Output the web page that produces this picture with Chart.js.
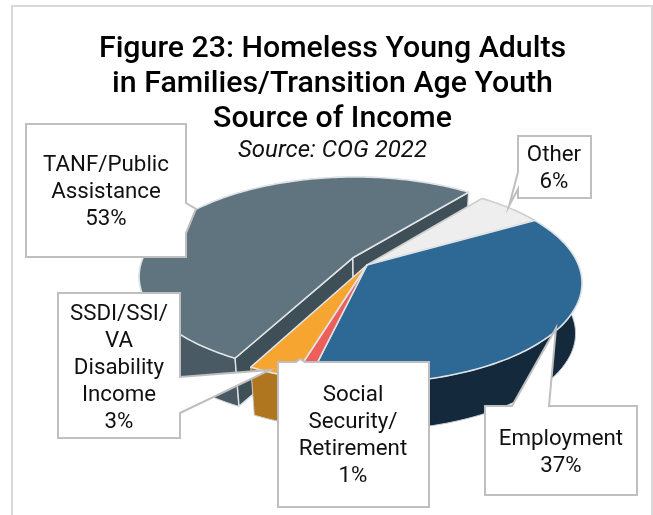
<!DOCTYPE html>
<html lang="en">
<head>
  <meta charset="UTF-8" />
  <title>Figure 23: Source of Income</title>
  <script src="https://cdn.jsdelivr.net/npm/chart.js"></script>
  <style>
    html, body { margin: 0; padding: 0; background: #fff; }
    #wrap { position: relative; width: 653px; height: 515px; overflow: hidden; }
  </style>
</head>
<body>
  <div id="wrap"><canvas id="incomeChart" width="653" height="515"></canvas></div>

  <script>
    const categories = ['TANF/Public Assistance', 'Other', 'Employment', 'Social Security/Retirement', 'SSDI/SSI/VA Disability Income'];
    const shares = [53, 6, 37, 1, 3];
    const labelLines = [
      ['TANF/Public', 'Assistance'],
      ['Other'],
      ['Employment'],
      ['Social', 'Security/', 'Retirement'],
      ['SSDI/SSI/', 'VA', 'Disability', 'Income']
    ];
    const titleLines = ['Figure 23: Homeless Young Adults', 'in Families/Transition Age Youth', 'Source of Income'];
    const subtitleLine = 'Source: COG 2022';

    const topColors = ['#60747f', '#eeeeee', '#2e6894', '#ee5f5b', '#f7a531'];
    const sideColors = ['#4a5a64', '#a9a9a9', '#14293b', '#a83c3a', '#b0761f'];
    const cutColor = '#3f4f58';

    // pie projection: flat disc seen at an angle, with a little perspective
    const APEX = { x: 367, y: 265 };
    const RADIUS = 211.5;
    const FLAT = 0.4577;
    const PERSPECTIVE = 0.18;
    const DEPTH = 51;
    const LOWER_SCALE = 0.97;
    const LIFT = -3;

    // callout outlines, each one a box with its pointer, and the text centre
    const callouts = [
      { outline: [[26,124],[186,124],[186,203],[196,209],[186,233],[186,257],[26,257]], cx: 106, top: 165 },
      { outline: [[518,136],[591,136],[591,198],[518,198],[518,189],[509,206],[518,172]], cx: 554, top: 155 },
      { outline: [[485,406],[512,406],[556,328],[549,406],[637,406],[637,495],[485,495]], cx: 561, top: 439 },
      { outline: [[278,362],[296,362],[300,359],[305,362],[429,362],[429,507],[278,507]], cx: 353, top: 395 },
      { outline: [[58,293],[180,293],[180,377],[270,370],[180,413],[180,438],[58,438]], cx: 119, top: 314 }
    ];
    const LABEL_FONT = '22.3px Roboto';
    const LABEL_LINE = 27.2;

    function project(angle, frac, off, lower) {
      const u = frac * Math.cos(angle) + off.u;
      const v = frac * Math.sin(angle) + off.v;
      const w = 1 - PERSPECTIVE * v;
      let x = RADIUS * u / w;
      let y = RADIUS * FLAT * v / w;
      if (lower) {
        x *= LOWER_SCALE;
        y = y * LOWER_SCALE + DEPTH;
      }
      return { x: APEX.x + x, y: APEX.y + y + off.lift };
    }

    function arcPoints(start, end, off, lower) {
      const pts = [];
      const steps = Math.max(2, Math.ceil((end - start) / 0.02));
      for (let i = 0; i <= steps; i++) {
        pts.push(project(start + (end - start) * i / steps, 1, off, lower));
      }
      return pts;
    }

    function fillPoly(ctx, pts, fill, stroke, width) {
      ctx.beginPath();
      pts.forEach((p, i) => i ? ctx.lineTo(p.x, p.y) : ctx.moveTo(p.x, p.y));
      ctx.closePath();
      ctx.fillStyle = fill;
      ctx.fill();
      ctx.strokeStyle = stroke;
      ctx.lineWidth = width;
      ctx.lineJoin = 'round';
      ctx.stroke();
    }

    function sliceGeometry(el) {
      const { startAngle, endAngle } = el.getProps(['startAngle', 'endAngle'], true);
      const mid = (startAngle + endAngle) / 2;
      const d = (el.options.offset || 0) / RADIUS;
      const off = { u: d * Math.cos(mid), v: d * Math.sin(mid), lift: d ? LIFT : 0 };
      return { startAngle, endAngle, off };
    }

    function drawWalls(ctx, g, i) {
      const top = arcPoints(g.startAngle, g.endAngle, g.off, false);
      const low = arcPoints(g.startAngle, g.endAngle, g.off, true);
      fillPoly(ctx, top.concat(low.reverse()), sideColors[i], '#c9ced1', 1);
    }

    function drawCuts(ctx, g) {
      [g.startAngle, g.endAngle].forEach(a => {
        fillPoly(ctx, [
          project(a, 0, g.off, false), project(a, 1, g.off, false),
          project(a, 1, g.off, true), project(a, 0, g.off, true)
        ], cutColor, '#dfe3e6', 1.5);
      });
    }

    function drawTop(ctx, g, i) {
      const pts = [project(0, 0, g.off, false)].concat(arcPoints(g.startAngle, g.endAngle, g.off, false));
      fillPoly(ctx, pts, topColors[i], i === 1 ? '#cfcfcf' : '#dfe3e6', 1.6);
    }

    // extruded pie, built from the arc angles the controller worked out
    const pie3d = {
      id: 'pie3d',
      beforeDatasetDraw(chart, args) {
        const ctx = chart.ctx;
        const geo = args.meta.data.map(sliceGeometry);
        ctx.save();
        drawWalls(ctx, geo[0], 0);
        drawCuts(ctx, geo[0]);
        drawTop(ctx, geo[0], 0);
        [1, 2, 3, 4].forEach(i => drawWalls(ctx, geo[i], i));
        [1, 2, 3, 4].forEach(i => drawTop(ctx, geo[i], i));
        ctx.restore();
        return false;
      }
    };

    const calloutLabels = {
      id: 'calloutLabels',
      afterDraw(chart) {
        const ctx = chart.ctx;
        ctx.save();
        callouts.forEach((c, i) => {
          ctx.beginPath();
          c.outline.forEach((p, j) => j ? ctx.lineTo(p[0], p[1]) : ctx.moveTo(p[0], p[1]));
          ctx.closePath();
          ctx.fillStyle = '#fff';
          ctx.fill();
          ctx.strokeStyle = '#bfbfbf';
          ctx.lineWidth = 2;
          ctx.lineJoin = 'miter';
          ctx.stroke();

          ctx.fillStyle = '#111';
          ctx.font = LABEL_FONT;
          ctx.textAlign = 'center';
          ctx.textBaseline = 'middle';
          labelLines[i].concat(shares[i] + '%').forEach((line, k) => {
            ctx.fillText(line, c.cx, c.top + k * LABEL_LINE);
          });
        });
        ctx.restore();
      }
    };

    const frame = {
      id: 'frame',
      beforeDraw(chart) {
        const ctx = chart.ctx;
        ctx.save();
        ctx.strokeStyle = '#d9d9d9';
        ctx.lineWidth = 2;
        ctx.strokeRect(12, 6, 640, 530);
        ctx.restore();
      }
    };

    new Chart(document.getElementById('incomeChart'), {
      type: 'pie',
      data: {
        labels: categories,
        datasets: [{
          data: shares,
          backgroundColor: topColors,
          borderWidth: 0,
          offset: [17, 0, 0, 0, 0]
        }]
      },
      options: {
        responsive: false,
        animation: false,
        rotation: 207.5,
        radius: RADIUS,
        layout: { padding: { left: 12 } },
        plugins: {
          legend: { display: false },
          tooltip: { enabled: false },
          title: {
            display: true,
            text: titleLines,
            color: '#000',
            font: { family: 'Roboto', size: 30.3, weight: '500', lineHeight: 1.155 },
            padding: { top: 31.5, bottom: 0 }
          },
          subtitle: {
            display: true,
            text: subtitleLine,
            color: '#111',
            font: { family: 'Roboto', size: 24, style: 'italic', weight: 'normal', lineHeight: 1.2 },
            padding: { top: 0, bottom: 0 }
          }
        }
      },
      plugins: [frame, pie3d, calloutLabels]
    });
  </script>
</body>
</html>
